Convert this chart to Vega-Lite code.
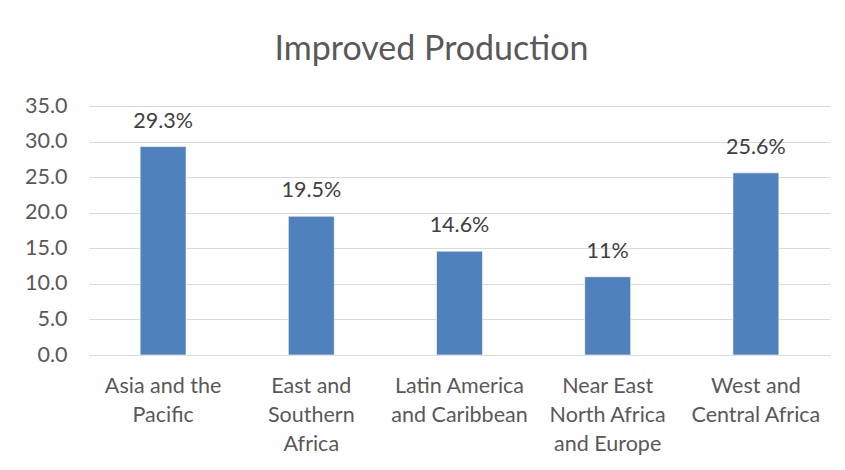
{
  "$schema": "https://vega.github.io/schema/vega-lite/v6.json",
  "autosize": "none",
  "width": 741,
  "height": 249,
  "padding": {"left": 89, "top": 106, "right": 15, "bottom": 115},
  "background": "#ffffff",
  "title": {
    "text": "Improved Production",
    "anchor": "middle",
    "frame": "group",
    "dx": -28,
    "offset": 28,
    "font": "Lato",
    "fontSize": 34,
    "fontWeight": "normal",
    "color": "#595959"
  },
  "data": {
    "values": [
      {"region": "Asia and the Pacific", "share": 29.3, "label": "29.3%"},
      {"region": "East and Southern Africa", "share": 19.5, "label": "19.5%"},
      {"region": "Latin America and Caribbean", "share": 14.6, "label": "14.6%"},
      {"region": "Near East North Africa and Europe", "share": 11, "label": "11%"},
      {"region": "West and Central Africa", "share": 25.6, "label": "25.6%"}
    ]
  },
  "encoding": {
    "x": {
      "field": "region",
      "type": "nominal",
      "sort": null,
      "title": null,
      "scale": {"paddingInner": 0.69, "paddingOuter": 0.345},
      "axis": {
        "labelAngle": 0,
        "labelAlign": "center",
        "labelBaseline": "top",
        "labelPadding": 20,
        "labelFont": "Lato",
        "labelFontSize": 21.5,
        "labelColor": "#595959",
        "labelLineHeight": 29,
        "ticks": false,
        "domainColor": "#d9d9d9",
        "domainWidth": 1,
        "labelExpr": "datum.label == 'Asia and the Pacific' ? ['Asia and the', 'Pacific'] : datum.label == 'East and Southern Africa' ? ['East and', 'Southern', 'Africa'] : datum.label == 'Latin America and Caribbean' ? ['Latin America', 'and Caribbean'] : datum.label == 'Near East North Africa and Europe' ? ['Near East', 'North Africa', 'and Europe'] : ['West and', 'Central Africa']"
      }
    },
    "y": {
      "field": "share",
      "type": "quantitative",
      "title": null,
      "scale": {"domain": [0, 35], "nice": false},
      "axis": {
        "values": [0, 5, 10, 15, 20, 25, 30, 35],
        "format": ".1f",
        "labelFont": "Lato",
        "labelFontSize": 21.5,
        "labelColor": "#595959",
        "labelPadding": 22,
        "ticks": false,
        "domain": false,
        "gridColor": "#d9d9d9",
        "gridWidth": 1.2
      }
    }
  },
  "layer": [
    {
      "mark": {"type": "bar", "color": "#4f81bd", "stroke": "#ffffff", "strokeWidth": 0.6}
    },
    {
      "mark": {
        "type": "text",
        "baseline": "bottom",
        "dy": -14,
        "font": "Lato",
        "fontSize": 21.5,
        "color": "#404040"
      },
      "encoding": {"text": {"field": "label", "type": "nominal"}}
    }
  ],
  "config": {
    "view": {"stroke": null}
  }
}
